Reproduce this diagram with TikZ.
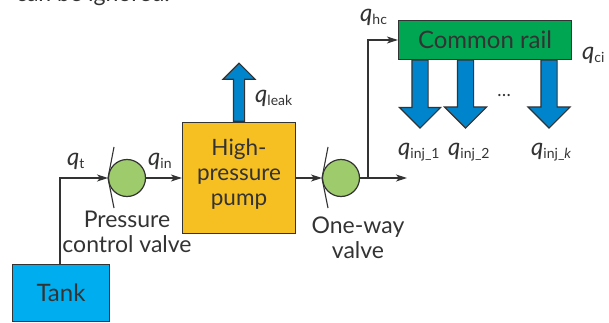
\documentclass[tikz,border=0pt]{standalone}
\usepackage{fontspec}
\setmainfont{Lato}
\usepackage{xcolor}
\usetikzlibrary{arrows.meta, shapes.arrows}
\definecolor{mydark}{HTML}{333333}
\definecolor{mycyan}{HTML}{00AEEF}
\definecolor{myyellow}{HTML}{F6BF22}
\definecolor{mygreen}{HTML}{00A651}
\definecolor{mylime}{HTML}{9ECB6C}
\definecolor{myblue}{HTML}{0085CC}
\newcommand{\flow}[2]{{\fontsize{24}{24}\selectfont\itshape #1}\raisebox{-3pt}{\fontsize{14}{14}\selectfont #2}}
\tikzset{
  >={Stealth[length=11pt,width=7pt,inset=3pt]},
  % Blocchi
  block/.style={draw=mydark,line width=1.2pt,inner sep=0,text=mydark,align=center,font=\fontsize{24}{26}\selectfont},
  % Valvole
  valve/.style={circle,draw=mydark,line width=1.2pt,fill=mylime,minimum size=37pt,inner sep=0},
  % Connessioni
  connect/.style={line width=1.1pt,mydark},
  connect arrow/.style={connect,->},
  % Frecce di portata
  flow arrow/.style={single arrow,draw=mydark,line width=1.1pt,fill=myblue,inner sep=0,text depth=0pt,single arrow tip angle=90},
  label/.style={text=mydark,inner sep=0,align=center,font=\fontsize{23}{25}\selectfont}
}
\begin{document}
\begin{tikzpicture}[x=1pt,y=-1pt]
    \useasboundingbox (0,0) rectangle (609,323);
    \node[label,anchor=base east] (Note) at (170,2) {can be ignored.};
    \node[flow arrow,rotate=90,minimum height=58pt,text height=10pt,single arrow head extend=10.5pt] (Leak) at (239,95) {};
    \node[flow arrow,rotate=-90,minimum height=68pt,text height=15pt,single arrow head extend=12.5pt] (Inj1) at (420,90) {};
    \node[flow arrow,rotate=-90,minimum height=68pt,text height=15pt,single arrow head extend=13pt] (Inj2) at (465.5,90) {};
    \node[flow arrow,rotate=-90,minimum height=68pt,text height=15pt,single arrow head extend=13pt] (Injk) at (549,90) {};
    \node[block,fill=mycyan,minimum width=97pt,minimum height=57pt] (Tank) at (61,293) {Tank};
    \node[block,fill=myyellow,minimum width=113pt,minimum height=111pt] (Pump) at (239,178) {};
    \node[label,font=\fontsize{22.5}{25}\selectfont] (PumpText) at (239,174) {High-\\pressure\\pump};
    \node[block,fill=mygreen,minimum width=173pt,minimum height=39pt] (Rail) at (485,40) {Common rail};
    \node[valve] (Valve1) at (127,178) {};
    \node[valve] (Valve2) at (341,178) {};
    \coordinate (Seat1a) at (114,147);
    \coordinate (Seat1b) at (108,178);
    \coordinate (Seat1c) at (114,208);
    \coordinate (Seat2a) at (328,147);
    \coordinate (Seat2b) at (322,178);
    \coordinate (Seat2c) at (328,208);
    \coordinate (Corner1) at (60,178);
    \coordinate (Tankout) at (60,264);
    \coordinate (Branch) at (368,178);
    \coordinate (Corner2) at (368,40);
    \coordinate (Out) at (407,178);
    \draw[connect] (Seat1a) -- (Seat1b) -- (Seat1c);
    \draw[connect] (Seat2a) -- (Seat2b) -- (Seat2c);
    \draw[connect arrow] (Tankout) -- (Corner1) -- (Seat1b);
    \draw[connect arrow] (Valve1) -- (Pump);
    \draw[connect arrow] (Pump) -- (Seat2b);
    \draw[connect arrow] (Valve2) -- (Out);
    \draw[connect arrow] (Branch) -- (Corner2) -- (Rail);
    \node[label] (Label1) at (127,232) {Pressure\\control valve};
    \node[label] (Label2) at (358,238) {One-way\\valve};
    \node[label,anchor=base] (Dots) at (504,97) {\fontsize{18}{18}\selectfont\dots};
    \node[label,anchor=base west] (qleak) at (255,103) {\flow{q}{leak}};
    \node[label,anchor=base west] (qt) at (67,165) {\flow{q}{t}};
    \node[label,anchor=base west] (qin) at (148,165) {\flow{q}{in}};
    \node[label,anchor=base west] (qhc) at (360,22) {\flow{q}{hc}};
    \node[label,anchor=base west] (qci) at (582,60) {\flow{q}{ci}};
    \node[label,anchor=base west] (qinja) at (398,155) {\flow{q}{inj\_1}};
    \node[label,anchor=base west] (qinjb) at (448,155) {\flow{q}{inj\_2}};
    \node[label,anchor=base west] (qinjk) at (531,155) {\flow{q}{inj\_\textit{k}}};
  \end{tikzpicture}
\end{document}
